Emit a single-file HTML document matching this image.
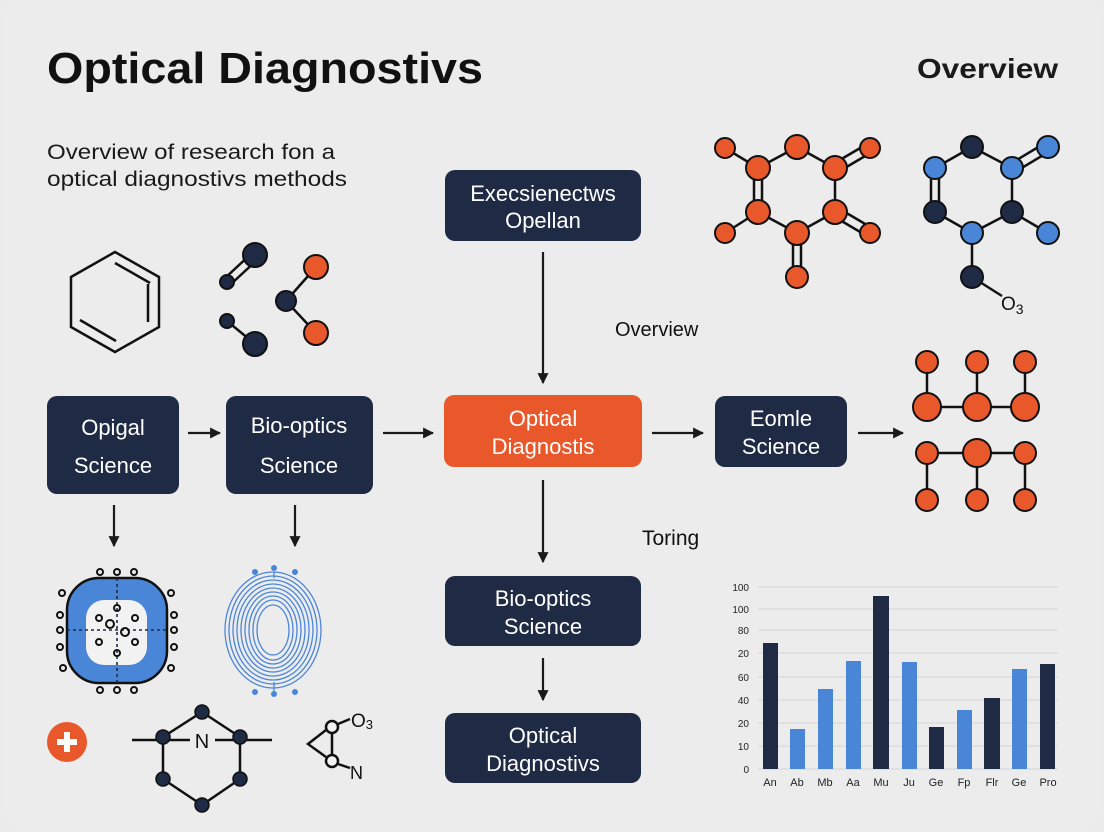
<!DOCTYPE html>
<html><head><meta charset="utf-8"><style>
html,body{margin:0;padding:0;background:#ebebeb;}
svg{display:block;font-family:"Liberation Sans",Arial,sans-serif;}
</style></head><body>
<svg width="1104" height="832" viewBox="0 0 1104 832" xmlns="http://www.w3.org/2000/svg">
<defs>
<marker id="ah" viewBox="0 0 10 10" refX="9" refY="5" markerWidth="5" markerHeight="5" orient="auto"><path d="M0,0 L10,5 L0,10 z" fill="#1a1a1a"/></marker>
</defs>
<rect width="1104" height="832" fill="#ebebeb"/>
<rect x="2" y="2" width="1100" height="826" rx="22" fill="#ececec"/>

<text x="47" y="83" font-size="44" font-weight="bold" fill="#111" textLength="436" lengthAdjust="spacingAndGlyphs">Optical Diagnostivs</text>
<text x="917" y="78" font-size="28" font-weight="bold" fill="#1a1a1a" textLength="141" lengthAdjust="spacingAndGlyphs">Overview</text>
<text x="47" y="159" font-size="21" fill="#1a1a1a" textLength="288" lengthAdjust="spacingAndGlyphs">Overview of research fon a</text>
<text x="47" y="186" font-size="21" fill="#1a1a1a" textLength="300" lengthAdjust="spacingAndGlyphs">optical diagnostivs methods</text>

<!-- benzene -->
<g fill="none" stroke="#111" stroke-width="2.5">
<polygon points="115,252 159,277 159,327 115,352 71,327 71,277"/>
<line x1="115" y1="263" x2="150" y2="283"/>
<line x1="148" y1="284" x2="148" y2="322"/>
<line x1="80" y1="320" x2="116" y2="341"/>
</g>
<!-- small molecule -->
<g stroke="#111" stroke-width="2.5">
<line x1="224" y1="279" x2="252" y2="253"/><line x1="230" y1="285" x2="258" y2="259"/>
<line x1="227" y1="321" x2="255" y2="344"/>
<line x1="286" y1="301" x2="316" y2="267"/><line x1="286" y1="301" x2="316" y2="333"/>
</g>
<g stroke="#111" stroke-width="2">
<circle cx="255" cy="255" r="12" fill="#1f2a44"/><circle cx="227" cy="282" r="7" fill="#1f2a44"/>
<circle cx="227" cy="321" r="7" fill="#1f2a44"/><circle cx="255" cy="344" r="12" fill="#1f2a44"/>
<circle cx="286" cy="301" r="10" fill="#1f2a44"/>
<circle cx="316" cy="267" r="12" fill="#e8582a"/><circle cx="316" cy="333" r="12" fill="#e8582a"/>
</g>

<!-- boxes -->
<g fill="#1f2a44">
<rect x="47" y="396" width="132" height="98" rx="10"/>
<rect x="226" y="396" width="147" height="98" rx="10"/>
<rect x="445" y="170" width="196" height="71" rx="10"/>
<rect x="715" y="396" width="132" height="71" rx="10"/>
<rect x="445" y="576" width="196" height="70" rx="10"/>
<rect x="445" y="713" width="196" height="70" rx="10"/>
</g>
<rect x="444" y="395" width="198" height="72" rx="10" fill="#e8582a"/>
<g fill="#fff" font-size="22" text-anchor="middle">
<text x="113" y="435">Opigal</text><text x="113" y="473">Science</text>
<text x="299" y="433">Bio-optics</text><text x="299" y="473">Science</text>
<text x="543" y="201">Execsienectws</text><text x="543" y="228">Opellan</text>
<text x="543" y="426">Optical</text><text x="543" y="454">Diagnostis</text>
<text x="781" y="426">Eomle</text><text x="781" y="454">Science</text>
<text x="543" y="606">Bio-optics</text><text x="543" y="634">Science</text>
<text x="543" y="743">Optical</text><text x="543" y="771">Diagnostivs</text>
</g>
<text x="615" y="336" font-size="20" fill="#111">Overview</text>
<text x="642" y="545" font-size="21" fill="#111">Toring</text>

<!-- arrows -->
<g stroke="#1a1a1a" stroke-width="2.2" marker-end="url(#ah)">
<line x1="188" y1="433" x2="220" y2="433"/>
<line x1="383" y1="433" x2="433" y2="433"/>
<line x1="652" y1="433" x2="703" y2="433"/>
<line x1="858" y1="433" x2="903" y2="433"/>
<line x1="543" y1="252" x2="543" y2="383"/>
<line x1="543" y1="480" x2="543" y2="562"/>
<line x1="543" y1="658" x2="543" y2="700"/>
<line x1="114" y1="505" x2="114" y2="546"/>
<line x1="295" y1="505" x2="295" y2="546"/>
</g>

<!-- orange molecule -->
<g stroke="#111" stroke-width="2.5" fill="none">
<polyline points="797,147 758,168"/><line x1="797" y1="147" x2="835" y2="168"/>
<line x1="835" y1="168" x2="835" y2="212"/><line x1="835" y1="212" x2="797" y2="233"/>
<line x1="797" y1="233" x2="758" y2="212"/>
<line x1="754" y1="168" x2="754" y2="212"/><line x1="762" y1="168" x2="762" y2="212"/>
<line x1="725" y1="148" x2="758" y2="168"/><line x1="725" y1="233" x2="758" y2="212"/>
<line x1="833" y1="164" x2="867" y2="144"/><line x1="838" y1="172" x2="872" y2="152"/>
<line x1="833" y1="216" x2="867" y2="236"/><line x1="838" y1="208" x2="872" y2="228"/>
<line x1="793" y1="233" x2="793" y2="277"/><line x1="801" y1="233" x2="801" y2="277"/>
</g>
<g stroke="#111" stroke-width="2" fill="#e8582a">
<circle cx="725" cy="148" r="10"/><circle cx="797" cy="147" r="12"/><circle cx="870" cy="148" r="10"/>
<circle cx="758" cy="168" r="12"/><circle cx="835" cy="168" r="12"/>
<circle cx="758" cy="212" r="12"/><circle cx="835" cy="212" r="12"/>
<circle cx="725" cy="233" r="10"/><circle cx="797" cy="233" r="12"/><circle cx="870" cy="233" r="10"/>
<circle cx="797" cy="277" r="11"/>
</g>
<!-- blue molecule -->
<g stroke="#111" stroke-width="2.5" fill="none">
<line x1="972" y1="147" x2="935" y2="168"/><line x1="972" y1="147" x2="1012" y2="168"/>
<line x1="1012" y1="168" x2="1012" y2="212"/><line x1="1012" y1="212" x2="972" y2="233"/>
<line x1="972" y1="233" x2="935" y2="212"/>
<line x1="931" y1="168" x2="931" y2="212"/><line x1="939" y1="168" x2="939" y2="212"/>
<line x1="1010" y1="164" x2="1045" y2="143"/><line x1="1015" y1="172" x2="1050" y2="151"/>
<line x1="1012" y1="212" x2="1048" y2="233"/>
<line x1="972" y1="233" x2="972" y2="277"/><line x1="972" y1="277" x2="1002" y2="296"/>
</g>
<g stroke="#111" stroke-width="2">
<circle cx="972" cy="147" r="11" fill="#1f2a44"/><circle cx="1048" cy="147" r="11" fill="#4a86d8"/>
<circle cx="935" cy="168" r="11" fill="#4a86d8"/><circle cx="1012" cy="168" r="11" fill="#4a86d8"/>
<circle cx="935" cy="212" r="11" fill="#1f2a44"/><circle cx="1012" cy="212" r="11" fill="#1f2a44"/>
<circle cx="972" cy="233" r="11" fill="#4a86d8"/><circle cx="1048" cy="233" r="11" fill="#4a86d8"/>
<circle cx="972" cy="277" r="11" fill="#1f2a44"/>
</g>
<text x="1001" y="310" font-size="19" fill="#111">O<tspan font-size="14" dy="4">3</tspan></text>

<!-- grid molecule -->
<g stroke="#111" stroke-width="2.5">
<line x1="927" y1="362" x2="927" y2="407"/><line x1="977" y1="362" x2="977" y2="407"/><line x1="1025" y1="362" x2="1025" y2="407"/>
<line x1="927" y1="407" x2="1025" y2="407"/>
<line x1="927" y1="453" x2="1025" y2="453"/>
<line x1="927" y1="453" x2="927" y2="500"/><line x1="977" y1="453" x2="977" y2="500"/><line x1="1025" y1="453" x2="1025" y2="500"/>
</g>
<g stroke="#111" stroke-width="2" fill="#e8582a">
<circle cx="927" cy="362" r="11"/><circle cx="977" cy="362" r="11"/><circle cx="1025" cy="362" r="11"/>
<circle cx="927" cy="407" r="14"/><circle cx="977" cy="407" r="14"/><circle cx="1025" cy="407" r="14"/>
<circle cx="927" cy="453" r="11"/><circle cx="977" cy="453" r="14"/><circle cx="1025" cy="453" r="11"/>
<circle cx="927" cy="500" r="11"/><circle cx="977" cy="500" r="11"/><circle cx="1025" cy="500" r="11"/>
</g>

<!-- ring cell -->
<rect x="67" y="578" width="100" height="105" rx="32" fill="#4a86d8" stroke="#111" stroke-width="2.5"/>
<rect x="86" y="600" width="61" height="65" rx="18" fill="#f2f2f2"/>
<g stroke="#1f2a44" stroke-width="1.6" stroke-dasharray="3,3">
<line x1="117" y1="578" x2="117" y2="683"/><line x1="67" y1="630" x2="167" y2="630"/>
</g>
<g fill="none" stroke="#111" stroke-width="2">
<circle cx="100" cy="572" r="3"/><circle cx="117" cy="572" r="3"/><circle cx="134" cy="572" r="3"/>
<circle cx="100" cy="690" r="3"/><circle cx="117" cy="690" r="3"/><circle cx="134" cy="690" r="3"/>
<circle cx="62" cy="593" r="3"/><circle cx="60" cy="615" r="3"/><circle cx="60" cy="630" r="3"/><circle cx="60" cy="647" r="3"/><circle cx="63" cy="668" r="3"/>
<circle cx="171" cy="593" r="3"/><circle cx="174" cy="615" r="3"/><circle cx="174" cy="630" r="3"/><circle cx="174" cy="647" r="3"/><circle cx="171" cy="668" r="3"/>
<circle cx="117" cy="608" r="3"/><circle cx="99" cy="618" r="3"/><circle cx="135" cy="618" r="3"/>
<circle cx="110" cy="624" r="4"/><circle cx="125" cy="632" r="4"/>
<circle cx="99" cy="642" r="3"/><circle cx="135" cy="642" r="3"/><circle cx="117" cy="653" r="3"/>
</g>
<!-- spiral -->
<g fill="none" stroke="#4a86d8" stroke-width="1.3">
<ellipse cx="273" cy="630" rx="48" ry="58"/><ellipse cx="273" cy="630" rx="44" ry="54"/>
<ellipse cx="273" cy="630" rx="40" ry="50"/><ellipse cx="273" cy="630" rx="36" ry="46"/>
<ellipse cx="273" cy="630" rx="32" ry="42"/><ellipse cx="273" cy="630" rx="28" ry="38"/>
<ellipse cx="273" cy="630" rx="24" ry="34"/><ellipse cx="273" cy="630" rx="20" ry="30"/>
<ellipse cx="273" cy="630" rx="16" ry="25"/>
<line x1="274" y1="572" x2="274" y2="578"/><line x1="274" y1="682" x2="274" y2="692"/>
</g>
<g fill="#4a86d8">
<circle cx="255" cy="572" r="3"/><circle cx="274" cy="568" r="3"/><circle cx="295" cy="572" r="3"/>
<circle cx="255" cy="692" r="3"/><circle cx="274" cy="694" r="3"/><circle cx="295" cy="692" r="3"/>
</g>

<!-- plus -->
<circle cx="67" cy="742" r="20" fill="#e8582a"/>
<rect x="57" y="739" width="20" height="6" fill="#fff"/><rect x="64" y="732" width="6" height="20" fill="#fff"/>

<!-- N hexagon -->
<g stroke="#111" stroke-width="2.5" fill="none">
<polygon points="202,712 240,737 240,779 202,805 163,779 163,737"/>
<line x1="132" y1="740" x2="190" y2="740"/><line x1="215" y1="740" x2="272" y2="740"/>
</g>
<g stroke="#111" stroke-width="1.5" fill="#1f2a44">
<circle cx="202" cy="712" r="7"/><circle cx="163" cy="737" r="7"/><circle cx="240" cy="737" r="7"/>
<circle cx="163" cy="779" r="7"/><circle cx="240" cy="779" r="7"/><circle cx="202" cy="805" r="7"/>
</g>
<text x="202" y="748" font-size="20" fill="#111" text-anchor="middle">N</text>

<!-- small triangle molecule -->
<g stroke="#111" stroke-width="2.5" fill="none">
<polyline points="326,730 308,744 326,757"/>
<line x1="332" y1="733" x2="332" y2="755"/>
<line x1="338" y1="724" x2="350" y2="719"/><line x1="338" y1="764" x2="350" y2="768"/>
</g>
<g stroke="#111" stroke-width="2.5" fill="#f2f2f2">
<circle cx="332" cy="727" r="6"/><circle cx="332" cy="761" r="6"/>
</g>
<text x="351" y="727" font-size="19" fill="#111">O<tspan font-size="13" dy="2">3</tspan></text>
<text x="350" y="779" font-size="18" fill="#111">N</text>

<!-- chart -->
<g stroke="#d4d4d4" stroke-width="1">
<line x1="758" y1="587" x2="1058" y2="587"/><line x1="758" y1="609" x2="1058" y2="609"/>
<line x1="758" y1="630" x2="1058" y2="630"/><line x1="758" y1="653" x2="1058" y2="653"/>
<line x1="758" y1="677" x2="1058" y2="677"/><line x1="758" y1="700" x2="1058" y2="700"/>
<line x1="758" y1="723" x2="1058" y2="723"/><line x1="758" y1="746" x2="1058" y2="746"/>
<line x1="758" y1="769" x2="1058" y2="769"/>
</g>
<g font-size="10" fill="#222" text-anchor="end">
<text x="749" y="591">100</text><text x="749" y="613">100</text><text x="749" y="634">80</text>
<text x="749" y="657">20</text><text x="749" y="681">60</text><text x="749" y="704">40</text>
<text x="749" y="727">20</text><text x="749" y="750">10</text><text x="749" y="773">0</text>
</g>
<rect x="763" y="643" width="15" height="126" fill="#1f2a44"/>
<rect x="790" y="729" width="15" height="40" fill="#4a86d8"/>
<rect x="818" y="689" width="15" height="80" fill="#4a86d8"/>
<rect x="846" y="661" width="15" height="108" fill="#4a86d8"/>
<rect x="873" y="596" width="16" height="173" fill="#1f2a44"/>
<rect x="902" y="662" width="15" height="107" fill="#4a86d8"/>
<rect x="929" y="727" width="15" height="42" fill="#1f2a44"/>
<rect x="957" y="710" width="15" height="59" fill="#4a86d8"/>
<rect x="984" y="698" width="16" height="71" fill="#1f2a44"/>
<rect x="1012" y="669" width="15" height="100" fill="#4a86d8"/>
<rect x="1040" y="664" width="15" height="105" fill="#1f2a44"/>
<g font-size="11" fill="#222" text-anchor="middle">
<text x="770" y="786">An</text><text x="797" y="786">Ab</text><text x="825" y="786">Mb</text>
<text x="853" y="786">Aa</text><text x="881" y="786">Mu</text><text x="909" y="786">Ju</text>
<text x="936" y="786">Ge</text><text x="964" y="786">Fp</text><text x="992" y="786">Flr</text>
<text x="1019" y="786">Ge</text><text x="1048" y="786">Pro</text>
</g>
</svg>
</body></html>
